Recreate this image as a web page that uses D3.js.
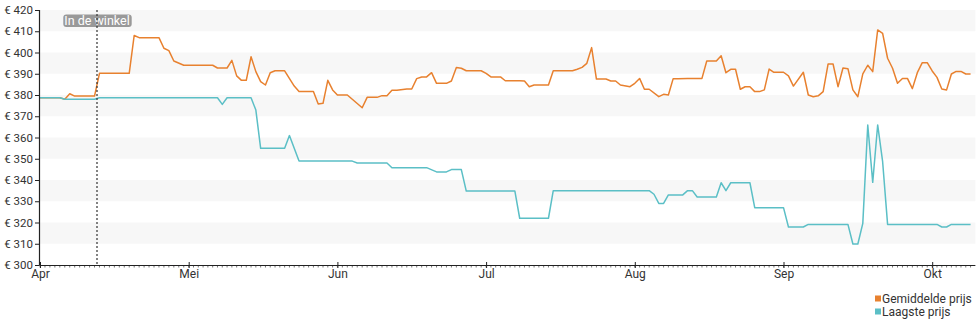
<!DOCTYPE html>
<html><head><meta charset="utf-8">
<script src="https://cdn.jsdelivr.net/npm/d3@7"></script>
<style>
body{margin:0;background:#fff;}
svg{display:block;font-family:Roboto, "Noto Sans", sans-serif;}
</style>
</head><body>
<svg id="chart" width="980" height="325"></svg>
<script>
// ---------- data ----------
const year = 2023;
const monthTicks = ["04-01","05-01","06-01","07-01","08-01","09-01","10-01"];
const monthLabels = ["Apr","Mei","Jun","Jul","Aug","Sep","Okt"];
const axisEndDate = "10-10";
const yTicks = [300,310,320,330,340,350,360,370,380,390,400,410,420];
const storeDate = "04-12T12:00";
const storeLabel = "In de winkel";
const seriesNames = ["Gemiddelde prijs","Laagste prijs"];
const seriesColors = ["#e8812f","#5bbfc6"];

const avgDates = ["04-01","04-05","04-06","04-07","04-08","04-12","04-13","04-19","04-20","04-21","04-25","04-26","04-27","04-28","04-30",
"05-06","05-07","05-09","05-10","05-11","05-12","05-13","05-14","05-15","05-16","05-17","05-18","05-19","05-21","05-23","05-24","05-27","05-28","05-29","05-30","05-31",
"06-01","06-03","06-06","06-07","06-09","06-10","06-11","06-12","06-13","06-15","06-16","06-17","06-18","06-19","06-20","06-21","06-23","06-24","06-25","06-26","06-27","06-30",
"07-01","07-02","07-04","07-05","07-08","07-09","07-10","07-11","07-14","07-15","07-19","07-20","07-21","07-22","07-23","07-24","07-26","07-27","07-28","07-29","07-31",
"08-01","08-02","08-03","08-04","08-06","08-07","08-08","08-09","08-10","08-12","08-15","08-16","08-18","08-19","08-20","08-21","08-22","08-23","08-24","08-25","08-26","08-27","08-28","08-29","08-30",
"09-01","09-02","09-03","09-05","09-06","09-07","09-08","09-09","09-10","09-11","09-12","09-13","09-14","09-15","09-16","09-17","09-18","09-19","09-20","09-21","09-22","09-23","09-24","09-25","09-26","09-27","09-28","09-29","09-30",
"10-01","10-02","10-03","10-04","10-05","10-06","10-07","10-08","10-09"];
const avgValues = [378.7,378.7,378,380.6,379.5,379.5,390.2,390.2,408,407,407,402,400.9,396,394,
394,392.7,392.7,396.3,389,386.9,386.9,398,391,386.3,384.7,390.5,391.4,391.4,384.2,381.6,381.6,375.8,376.1,386.9,382.4,
380,380,374,378.9,378.9,379.7,379.7,382.2,382.2,382.8,382.8,387.7,388.5,388.5,390.5,385.5,385.5,386.6,392.9,392.6,391.4,391.4,
390.2,388.5,388.5,386.7,386.7,386.6,383.9,384.7,384.7,391.4,391.4,392.1,393,394.9,402.3,387.5,387.5,386.6,386.6,384.7,383.9,
385.5,387.8,382.7,382.7,379.2,380.3,380,387.7,387.7,387.8,387.8,396,396,398.5,390.5,392.1,392.1,382.7,383.9,383.9,381.6,381.6,382.4,392.2,390.7,
390.7,389,384.2,390.7,380,379.2,379.6,381.6,394.6,394.6,383.9,392.7,392.4,382.4,379.2,389.9,394,391,410.6,409,397.3,392.6,385.5,387.8,387.8,383,390.5,395.2,395.2,
391.3,388.3,382.8,382.4,389.9,391.1,391.1,389.9,389.9];

const lowDates = ["04-01","04-05","04-06","04-12","04-13","05-07","05-08","05-09","05-14","05-15","05-16","05-21","05-22","05-24",
"06-04","06-05","06-11","06-12","06-19","06-21","06-23","06-24","06-26","06-27","07-07","07-08","07-14","07-15",
"08-04","08-05","08-06","08-07","08-08","08-11","08-12","08-13","08-14","08-18","08-19","08-20","08-21","08-25","08-26",
"09-01","09-02","09-05","09-06","09-14","09-15","09-16","09-17","09-18","09-19","09-20","09-21","09-22",
"10-02","10-03","10-04","10-05","10-09"];
const lowValues = [378.7,378.7,378,378,378.7,378.7,375.6,378.7,378.7,372.9,354.9,354.9,360.9,348.9,
348.9,348,348,345.8,345.8,343.8,343.8,344.9,344.9,334.8,334.8,322,322,335,
335,333.3,329,329,333,333,335,335,332,332,338.7,335,338.7,338.7,327,
327,317.9,317.9,319.1,319.1,309.9,309.9,319.6,365.9,338.9,365.9,348.6,319.1,
319.1,317.9,317.9,319.1,319.1];

// ---------- layout ----------
const parse = s => new Date(`${year}-${s}${s.includes("T") ? ":00Z" : "T00:00:00Z"}`);
const mLeft = 40, mTop = 10, mBottom = 265, monthWidth = 148.7;
const monthDates = monthTicks.map(parse);
const endDate = parse(axisEndDate);
const lastMonth = monthDates[monthDates.length-1];
const lastMonthDays = d3.utcDay.count(lastMonth, d3.utcMonth.offset(lastMonth,1));
const xRange = monthDates.map((d,i)=> mLeft + i*monthWidth);
xRange.push(mLeft + (monthDates.length-1)*monthWidth + d3.utcDay.count(lastMonth, endDate)*monthWidth/lastMonthDays);
const x = d3.scaleUtc().domain([...monthDates, endDate]).range(xRange);
const mRight = xRange[xRange.length-1];
const y = d3.scaleLinear().domain([300,420]).range([mBottom, mTop]);

const svg = d3.select("#chart");

// bands
const bandStarts = yTicks.slice(0,-1).filter(v => (420 - v) % 20 === 10);
svg.append("g").selectAll("rect").data(bandStarts).join("rect")
  .attr("x", mLeft).attr("width", mRight-mLeft)
  .attr("y", d=>y(d+10)).attr("height", d=>y(d)-y(d+10))
  .attr("fill","#f7f7f7");

// annotation label
const sx = x(parse(storeDate));
const ann = svg.append("g");
const annText = ann.append("text").attr("x", sx).attr("y", 24.5).attr("text-anchor","middle")
  .attr("font-size", 12.5).attr("fill","#fff").text(storeLabel);
const bb = annText.node().getBBox();
ann.insert("rect","text").attr("x", bb.x-1).attr("y", 14.5).attr("width", bb.width+3).attr("height", 12.5)
  .attr("rx", 3).attr("fill","#999");

// series
const line = d3.line().x(d=>x(d[0])).y(d=>y(d[1]));
const avgData = avgDates.map((d,i)=>[parse(d), avgValues[i]]);
const lowData = lowDates.map((d,i)=>[parse(d), lowValues[i]]);
[avgData, lowData].forEach((data,i)=>{
  svg.append("path").datum(data).attr("d", line).attr("fill","none")
    .attr("stroke", seriesColors[i]).attr("stroke-width", 1.5).attr("stroke-linejoin","round");
});

// store line
svg.append("line").attr("x1", sx).attr("x2", sx).attr("y1", mTop).attr("y2", mBottom)
  .attr("stroke","#333").attr("stroke-width",1.2).attr("stroke-dasharray","2,2");

// y axis
const yAxis = svg.append("g").attr("transform",`translate(${mLeft},0)`)
  .call(d3.axisLeft(y).tickValues(yTicks).tickSize(5).tickPadding(2).tickFormat(d=>`€ ${d}`));
yAxis.select(".domain").attr("stroke","#222").attr("stroke-width",1.2).attr("d",`M-0.5,${mTop}V${mBottom}`);
yAxis.selectAll(".tick line").attr("stroke","#222");
yAxis.selectAll("text").attr("font-size",11.5).attr("fill","#333").attr("font-family","Roboto");

// x axis minor ticks (daily)
const days = d3.utcDay.range(monthDates[0], endDate);
svg.append("g").selectAll("line").data(days).join("line")
  .attr("x1", d=>x(d)).attr("x2", d=>x(d)).attr("y1", mBottom).attr("y2", mBottom+2.5)
  .attr("stroke","#777").attr("stroke-width",1);

// x axis
const xAxis = svg.append("g").attr("transform",`translate(0,${mBottom})`)
  .call(d3.axisBottom(x).tickValues(monthDates).tickSize(0).tickPadding(4).tickFormat((d,i)=>monthLabels[i]));
xAxis.select(".domain").attr("stroke","#222").attr("stroke-width",1.2).attr("d",`M${mLeft},0.5H${mRight}`);
xAxis.selectAll(".tick").append("line").attr("y1",-3).attr("y2",3).attr("stroke","#222");
xAxis.selectAll("text").attr("font-size",12).attr("fill","#333").attr("font-family","Roboto");

// legend
const legend = svg.append("g").attr("transform","translate(875,293)");
seriesNames.forEach((n,i)=>{
  const g = legend.append("g").attr("transform",`translate(0,${i*13})`);
  g.append("rect").attr("x",0).attr("y",2.5).attr("width",6).attr("height",6).attr("fill",seriesColors[i]);
  g.append("text").attr("x",7).attr("y",9.5).attr("font-size",12).attr("fill","#333").text(n);
});
</script>
</body></html>
